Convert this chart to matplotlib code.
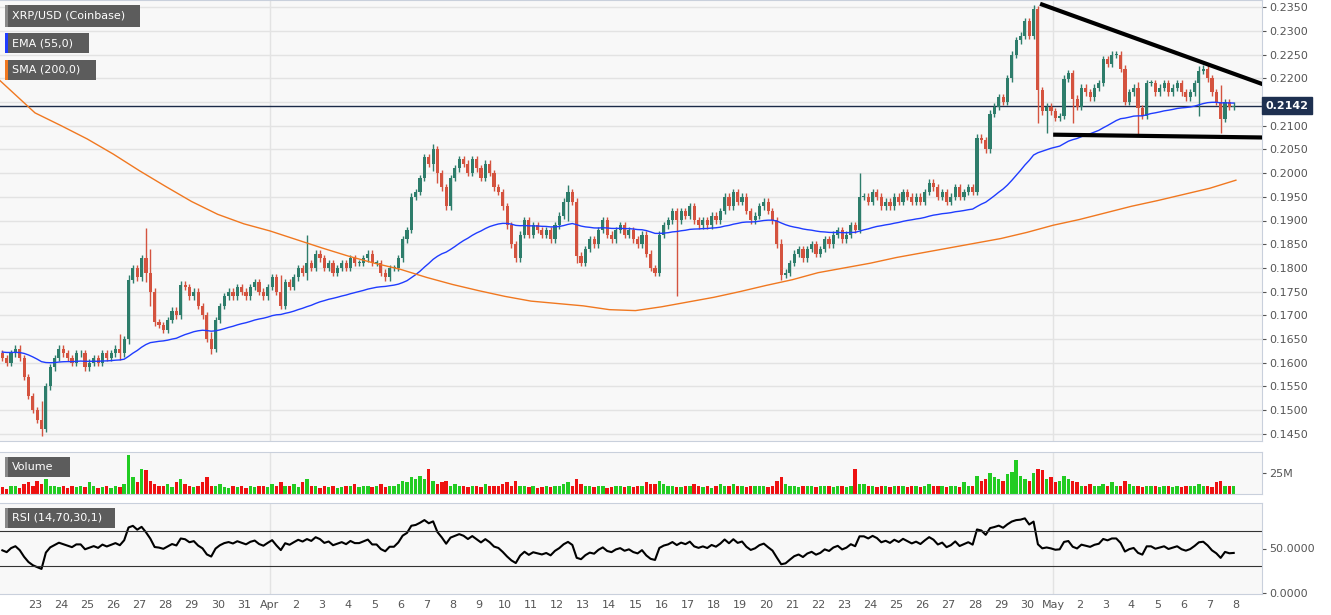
import numpy as np
import matplotlib
matplotlib.use("Agg")
import matplotlib.pyplot as plt
from matplotlib.patches import Rectangle

# ---------------- data (4-hour candles, 6 per day, first day = Mar 22) -------------
closes = [
    0.161, 0.160, 0.162, 0.163, 0.161, 0.157,   # Mar 22
    0.153, 0.150, 0.148, 0.146, 0.155, 0.159,   # Mar 23
    0.161, 0.163, 0.162, 0.161, 0.160, 0.162,   # Mar 24
    0.162, 0.159, 0.160, 0.161, 0.160, 0.162,   # Mar 25
    0.161, 0.162, 0.163, 0.162, 0.165, 0.1775,  # Mar 26
    0.180, 0.178, 0.182, 0.179, 0.175, 0.1685,  # Mar 27
    0.168, 0.167, 0.169, 0.171, 0.170, 0.1765,  # Mar 28
    0.176, 0.174, 0.175, 0.172, 0.170, 0.165,   # Mar 29
    0.163, 0.169, 0.172, 0.174, 0.175, 0.174,   # Mar 30
    0.176, 0.175, 0.174, 0.176, 0.177, 0.175,   # Mar 31
    0.174, 0.176, 0.178, 0.175, 0.172, 0.177,   # Apr 1
    0.176, 0.178, 0.180, 0.179, 0.181, 0.180,   # Apr 2
    0.183, 0.182, 0.180, 0.181, 0.179, 0.180,   # Apr 3
    0.181, 0.180, 0.182, 0.181, 0.181, 0.182,   # Apr 4
    0.183, 0.181, 0.181, 0.179, 0.178, 0.180,   # Apr 5
    0.180, 0.182, 0.186, 0.188, 0.195, 0.196,   # Apr 6
    0.199, 0.2033, 0.202, 0.205, 0.200, 0.197,  # Apr 7
    0.193, 0.199, 0.201, 0.203, 0.202, 0.200,   # Apr 8
    0.203, 0.201, 0.199, 0.202, 0.200, 0.197,   # Apr 9
    0.196, 0.193, 0.189, 0.185, 0.182, 0.187,   # Apr 10
    0.190, 0.187, 0.189, 0.188, 0.187, 0.188,   # Apr 11
    0.186, 0.189, 0.191, 0.194, 0.196, 0.194,   # Apr 12
    0.1826, 0.181, 0.184, 0.186, 0.185, 0.188,  # Apr 13
    0.190, 0.187, 0.186, 0.188, 0.189, 0.187,   # Apr 14
    0.188, 0.186, 0.185, 0.187, 0.183, 0.180,   # Apr 15
    0.179, 0.187, 0.189, 0.190, 0.192, 0.190,   # Apr 16
    0.192, 0.191, 0.193, 0.190, 0.189, 0.190,   # Apr 17
    0.189, 0.191, 0.190, 0.192, 0.195, 0.193,   # Apr 18
    0.196, 0.194, 0.195, 0.192, 0.190, 0.191,   # Apr 19
    0.193, 0.194, 0.192, 0.190, 0.185, 0.1785,  # Apr 20
    0.179, 0.181, 0.183, 0.184, 0.182, 0.184,   # Apr 21
    0.185, 0.183, 0.184, 0.186, 0.185, 0.187,   # Apr 22
    0.188, 0.186, 0.187, 0.189, 0.188, 0.195,   # Apr 23
    0.195, 0.194, 0.196, 0.195, 0.193, 0.194,   # Apr 24
    0.193, 0.195, 0.194, 0.196, 0.195, 0.194,   # Apr 25
    0.195, 0.194, 0.196, 0.198, 0.197, 0.195,   # Apr 26
    0.196, 0.194, 0.195, 0.197, 0.195, 0.196,   # Apr 27
    0.197, 0.196, 0.2075, 0.207, 0.205, 0.2125, # Apr 28
    0.214, 0.216, 0.215, 0.220, 0.225, 0.228,   # Apr 29
    0.229, 0.232, 0.229, 0.2345, 0.2175, 0.213, # Apr 30
    0.214, 0.213, 0.2116, 0.212, 0.2199, 0.221, # May 1
    0.2157, 0.214, 0.218, 0.217, 0.216, 0.218,  # May 2
    0.219, 0.224, 0.223, 0.225, 0.225, 0.222,   # May 3
    0.215, 0.217, 0.218, 0.2137, 0.212, 0.219,  # May 4
    0.219, 0.217, 0.218, 0.219, 0.217, 0.218,   # May 5
    0.219, 0.217, 0.216, 0.217, 0.219, 0.2216,  # May 6
    0.222, 0.220, 0.217, 0.215, 0.2115, 0.215,  # May 7
    0.214, 0.2142,
]
first_open = 0.162
# notable wick extremes: candle index -> (high, low)
wick_spikes = {9: (0.152, 0.1445), 27: (0.166, 0.1605), 29: (0.1785, 0.164),
               33: (0.1885, 0.177), 34: (0.184, 0.172), 48: (0.1665, 0.1618),
               64: (0.1785, 0.1715), 70: (0.187, 0.1775), 99: (0.2062, 0.2005),
               100: (0.2055, 0.198), 130: (0.1975, 0.190), 132: (0.190, 0.181),
               155: (0.184, 0.174), 179: (0.186, 0.1775), 197: (0.2, 0.1935),
               237: (0.2355, 0.2295), 238: (0.2305, 0.2105), 240: (0.2148, 0.2085),
               246: (0.2172, 0.2105), 261: (0.2192, 0.208), 275: (0.2225, 0.212),
               280: (0.2185, 0.2085)}
volumes = [
    8, 6, 10, 9, 7, 12,   14, 10, 16, 12, 18, 10,
    9, 8, 10, 7, 9, 8,    10, 8, 14, 9, 7, 8,
    9, 7, 10, 8, 12, 47,  20, 14, 30, 28, 16, 12,
    10, 9, 12, 8, 14, 18, 12, 10, 8, 9, 14, 20,
    10, 9, 12, 8, 7, 9,   8, 10, 7, 9, 8, 10,
    9, 8, 12, 10, 14, 9,  10, 12, 8, 14, 18, 10,
    9, 7, 10, 8, 9, 7,    8, 10, 9, 12, 8, 9,
    9, 8, 10, 12, 8, 10,  9, 12, 16, 14, 20, 18,
    22, 18, 30, 16, 12, 14, 16, 10, 12, 9, 10, 8,
    10, 9, 8, 12, 10, 9,  10, 12, 14, 10, 16, 9,
    10, 8, 9, 7, 8, 9,    8, 10, 9, 12, 14, 10,
    18, 12, 10, 9, 8, 10, 9, 7, 8, 10, 9, 8,
    9, 8, 10, 9, 14, 12,  12, 16, 12, 10, 9, 8,
    8, 10, 9, 12, 10, 8,  9, 7, 10, 12, 9, 10,
    12, 9, 10, 8, 9, 10,  10, 9, 8, 10, 16, 20,
    12, 10, 9, 8, 10, 9,  10, 8, 9, 10, 9, 8,
    9, 10, 8, 9, 30, 12,  12, 10, 9, 8, 10, 9,
    8, 9, 10, 9, 8, 9,    9, 8, 10, 12, 9, 10,
    9, 8, 10, 9, 8, 14,   10, 9, 22, 16, 18, 25,
    20, 18, 16, 24, 26, 40, 22, 18, 16, 25, 30, 28,
    18, 20, 14, 16, 22, 18, 16, 14, 10, 9, 12, 10,
    9, 12, 10, 14, 10, 9, 16, 12, 10, 9, 8, 10,
    9, 10, 8, 9, 10, 8,   9, 8, 10, 9, 10, 12,
    10, 9, 8, 14, 16, 10, 10, 9,
]
sma200_days = [-1.34] + list(range(0, 47))
sma200_vals = [0.2195, 0.2127, 0.2100, 0.2072, 0.2040, 0.2005, 0.1972, 0.1940,
               0.1913, 0.1893, 0.1878, 0.1860, 0.1842, 0.1825, 0.1810, 0.1797,
               0.1780, 0.1765, 0.1752, 0.1740, 0.1730, 0.1725, 0.1720, 0.1712,
               0.1710, 0.1718, 0.1728, 0.1738, 0.1750, 0.1763, 0.1775, 0.1790,
               0.1800, 0.1810, 0.1822, 0.1832, 0.1842, 0.1852, 0.1862, 0.1875,
               0.1890, 0.1902, 0.1916, 0.1930, 0.1942, 0.1955, 0.1968, 0.1985]
ema_seed = 0.1623
trend_upper = ([38.5, 47.1], [0.2357, 0.2186])
trend_lower = ([39.0, 47.1], [0.2081, 0.2075])
last_price = 0.2142
tick_days = list(range(0, 47))
tick_labels = ["23", "24", "25", "26", "27", "28", "29", "30", "31", "Apr",
               "2", "3", "4", "5", "6", "7", "8", "9", "10", "11", "12", "13",
               "14", "15", "16", "17", "18", "19", "20", "21", "22", "23", "24",
               "25", "26", "27", "28", "29", "30", "May", "2", "3", "4", "5",
               "6", "7", "8"]
price_ticks = [0.145 + 0.005 * k for k in range(19)]

# ---------------- derived ----------------
n = len(closes)
volumes = (volumes + [9] * n)[:n]
t = np.array([-1.25 + i / 6 for i in range(n)])
c = np.array(closes)
o = np.concatenate([[first_open], c[:-1]])
hi = np.maximum(o, c) + 0.0007
lo = np.minimum(o, c) - 0.0007
for k, (h, l) in wick_spikes.items():
    if k < n:
        hi[k] = max(hi[k], h); lo[k] = min(lo[k], l)
up = c >= o

ema = np.empty(n); a = 2 / 56; prev = ema_seed
for i in range(n):
    prev = prev + a * (c[i] - prev); ema[i] = prev
ag, al = 0.0009, 0.0009; rsi = np.empty(n)
d = np.diff(np.concatenate([[first_open], c]))
for i in range(n):
    g = max(d[i], 0); l_ = max(-d[i], 0)
    ag = (ag * 13 + g) / 14; al = (al * 13 + l_) / 14
    rsi[i] = 100 - 100 / (1 + ag / al) if al > 0 else 100

# ---------------- figure ----------------
W, H = 1331, 615
fig = plt.figure(figsize=(W / 100, H / 100), dpi=100, facecolor="white")
plt.rcParams["font.family"] = ["DejaVu Sans"]
right = 1262 / W
ax = fig.add_axes([0, 1 - 441 / H, right, 441 / H])
axv = fig.add_axes([0, 1 - 494 / H, right, 42 / H], sharex=ax)
axr = fig.add_axes([0, 1 - 594 / H, right, 91 / H], sharex=ax)
xmin, xmax = -1.34, 47.0
BG = "#f8f8f8"; GRID = "#e3e3e3"; TXT = "#555555"
for a_ in (ax, axv, axr):
    a_.set_facecolor(BG)
    for s in a_.spines.values():
        s.set_color("#c9d0dc")
    a_.spines["left"].set_visible(False)
    a_.yaxis.tick_right()
    a_.tick_params(axis="y", length=3, colors=TXT, labelsize=8, pad=2)
    a_.tick_params(axis="x", length=0)
    a_.set_xlim(xmin, xmax)
    for xv in (9, 39):
        a_.axvline(xv, color=GRID, lw=1, zorder=0)

GREEN = "#2e7d6b"; RED = "#d4533f"
ax.vlines(t, lo, hi, color=np.where(up, GREEN, RED), lw=1, zorder=3)
ax.bar(t, np.maximum(np.abs(c - o), 0.00015), bottom=np.minimum(o, c), width=0.12,
       color=np.where(up, GREEN, RED), zorder=4)
ax.plot(t, ema, color="#1f3cff", lw=1, zorder=5)
ax.plot(sma200_days, sma200_vals, color="#f07820", lw=1, zorder=5)
ax.plot(*trend_upper, color="black", lw=3, zorder=6, solid_capstyle="butt")
ax.plot(*trend_lower, color="black", lw=3, zorder=6, solid_capstyle="butt")
ax.axhline(last_price, color="#1b2a48", lw=1, zorder=2)
ax.set_ylim(0.1435, 0.2365)
ax.set_yticks(price_ticks)
ax.set_yticklabels(["" if abs(v - 0.215) < 1e-6 else f"{v:.4f}" for v in price_ticks])
ax.yaxis.grid(True, color=GRID, lw=1); ax.set_axisbelow(True)
ax.tick_params(axis="x", labelbottom=False)
ax.text(1.003, last_price, f"{last_price:.4f}", transform=ax.get_yaxis_transform(),
        color="white", fontsize=8, fontweight="bold", va="center", ha="left",
        bbox=dict(boxstyle="square,pad=0.3", fc="#1e3050", ec="#1e3050"), zorder=10)

axv.bar(t, volumes, width=0.13, color=np.where(up, "#22cc22", "#ee1111"))
axv.set_ylim(0, 50)
axv.set_yticks([25]); axv.set_yticklabels(["25M"])
axv.tick_params(axis="x", labelbottom=False)

axr.plot(t, rsi, color="black", lw=1.5)
axr.axhline(70, color="#333333", lw=0.8); axr.axhline(30, color="#333333", lw=0.8)
axr.set_ylim(-1, 101)
axr.set_yticks([0, 50]); axr.set_yticklabels(["0.0000", "50.0000"])
axr.set_xticks(tick_days); axr.set_xticklabels(tick_labels)
axr.tick_params(axis="x", colors=TXT, labelsize=8, pad=4)

def tag(y0, w, h, text, stripe=None):
    fig.patches.append(Rectangle((5 / W, 1 - (y0 + h) / H), w / W, h / H,
                       transform=fig.transFigure, fc="#5c5c5c", ec="none"))
    if stripe:
        fig.patches.append(Rectangle((5 / W, 1 - (y0 + h) / H), 3 / W, h / H,
                           transform=fig.transFigure, fc=stripe, ec="none"))
    fig.text(12 / W, 1 - (y0 + h / 2) / H, text, color="white", fontsize=8,
             va="center", ha="left")

tag(5, 135, 22, "XRP/USD (Coinbase)", "#888888")
tag(33, 84, 20, "EMA (55,0)", "#1f3cff")
tag(60, 91, 20, "SMA (200,0)", "#f07820")
tag(457, 65, 20, "Volume", "#888888")
tag(508, 110, 20, "RSI (14,70,30,1)", "#888888")

fig.savefig("out.png", dpi=100, facecolor="white")
